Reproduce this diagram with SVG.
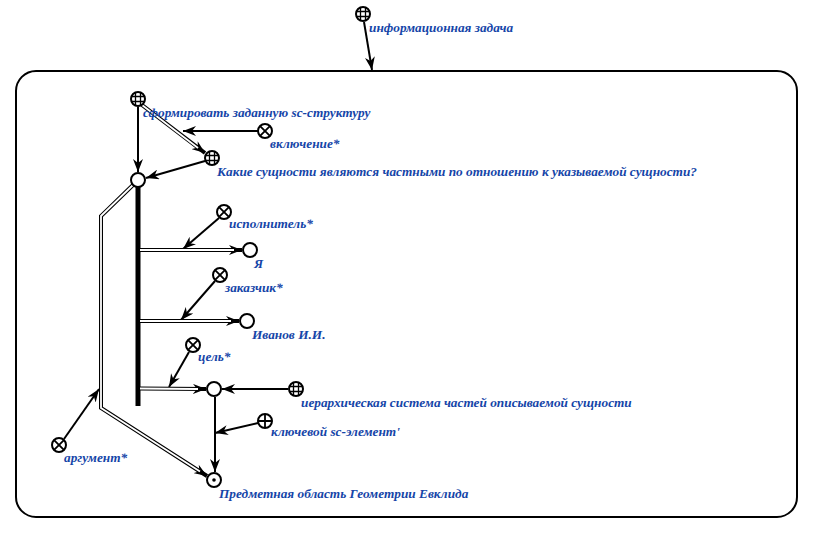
<svg xmlns="http://www.w3.org/2000/svg" width="813" height="533" viewBox="0 0 813 533">
<style>
.lbl{font-family:"Liberation Serif","DejaVu Serif",serif;font-style:italic;font-weight:bold;font-size:13.3px;fill:#1545a8}
.nd{fill:#fff;stroke:#000;stroke-width:2}
.in{stroke:#000;stroke-width:1.3;fill:none}
.ar{stroke:#000;stroke-width:2;fill:none}
.dbo{stroke:#000;stroke-width:4;fill:none}
.dbi{stroke:#fff;stroke-width:1.8;fill:none}
</style>
<defs>
<marker id="ah" markerUnits="userSpaceOnUse" markerWidth="14" markerHeight="10" refX="13" refY="5" orient="auto">
<path d="M0,0 L13,5 L0,10 L4,5 z" fill="#000"/>
</marker>
<g id="grid"><circle class="nd" r="7"/><path class="in" d="M-2.5,-6.5V6.5M2.5,-6.5V6.5M-6.5,-2.5H6.5M-6.5,2.5H6.5"/></g>
<g id="cross"><circle class="nd" r="7"/><path class="in" style="stroke-width:1.8" d="M-4.9,-4.9L4.9,4.9M-4.9,4.9L4.9,-4.9"/></g>
<g id="plus"><circle class="nd" r="7"/><path class="in" style="stroke-width:1.8" d="M0,-7V7M-7,0H7"/></g>
</defs>
<rect x="16" y="71" width="781" height="446" rx="20" ry="20" fill="#fff" stroke="#000" stroke-width="2"/>
<g id="connectors">
<line class="ar" x1="364" y1="22" x2="372" y2="70" marker-end="url(#ah)"/>
<line class="ar" x1="138" y1="107" x2="138" y2="172" marker-end="url(#ah)"/>
<path class="dbo" d="M142,105 L205,153" marker-end="url(#ah)"/>
<path class="dbi" d="M142,105 L198,148"/>
<line class="ar" x1="258" y1="131" x2="183" y2="131" marker-end="url(#ah)"/>
<line class="ar" x1="205" y1="161" x2="146" y2="178" marker-end="url(#ah)"/>
<line x1="138" y1="187" x2="138" y2="406" stroke="#000" stroke-width="5"/>
<path class="dbo" d="M133,185 L101,216 L101,408 L207,476" marker-end="url(#ah)"/>
<path class="dbi" d="M133,185 L101,216 L101,408 L200,471.5"/>
<line class="ar" x1="64" y1="439" x2="99" y2="389" marker-end="url(#ah)"/>
<line class="ar" x1="219" y1="218" x2="183" y2="249" marker-end="url(#ah)"/>
<path class="dbo" d="M140,250 L242,250" marker-end="url(#ah)"/>
<path class="dbi" d="M140,250 L234,250"/>
<line class="ar" x1="215" y1="281" x2="181" y2="320" marker-end="url(#ah)"/>
<path class="dbo" d="M140,321 L239,321" marker-end="url(#ah)"/>
<path class="dbi" d="M140,321 L231,321"/>
<line class="ar" x1="189" y1="352" x2="169" y2="387" marker-end="url(#ah)"/>
<path class="dbo" d="M140,388.5 L206,389" marker-end="url(#ah)"/>
<path class="dbi" d="M140,388.5 L198,389"/>
<line class="ar" x1="288" y1="389" x2="222" y2="389" marker-end="url(#ah)"/>
<line class="ar" x1="215" y1="397" x2="215" y2="472" marker-end="url(#ah)"/>
<line class="ar" x1="258" y1="423" x2="215" y2="433" marker-end="url(#ah)"/>
</g>
<g id="n-info"><use href="#grid" x="363" y="14"/><text class="lbl" x="369" y="32">информационная задача</text></g>
<g id="n-form"><use href="#grid" x="138" y="99"/><text class="lbl" x="143" y="117">сформировать заданную sc-структуру</text></g>
<g id="n-incl"><use href="#cross" x="265" y="131"/><text class="lbl" x="270" y="148">включение*</text></g>
<g id="n-q"><use href="#grid" x="212" y="158"/><text class="lbl" x="217" y="176">Какие сущности являются частными по отношению к указываемой сущности?</text></g>
<g id="n-act"><circle class="nd" cx="138" cy="180" r="7"/></g>
<g id="n-arg"><use href="#cross" x="59" y="445"/><text class="lbl" x="64" y="462">аргумент*</text></g>
<g id="n-isp"><use href="#cross" x="224" y="212"/><text class="lbl" x="229" y="228">исполнитель*</text></g>
<g id="n-ya"><circle class="nd" cx="250" cy="250" r="7"/><text class="lbl" x="254" y="268">Я</text></g>
<g id="n-zak"><use href="#cross" x="220" y="275"/><text class="lbl" x="225" y="292">заказчик*</text></g>
<g id="n-iv"><circle class="nd" cx="247" cy="321" r="7"/><text class="lbl" x="252" y="339">Иванов И.И.</text></g>
<g id="n-cel"><use href="#cross" x="193" y="345"/><text class="lbl" x="198" y="361">цель*</text></g>
<g id="n-goal"><circle class="nd" cx="214" cy="389" r="7"/></g>
<g id="n-ier"><use href="#grid" x="296" y="389"/><text class="lbl" x="301" y="407">иерархическая система частей описываемой сущности</text></g>
<g id="n-key"><use href="#plus" x="265" y="421"/><text class="lbl" x="271" y="436">ключевой sc-элемент'</text></g>
<g id="n-geo"><circle class="nd" cx="214" cy="480" r="7"/><circle cx="214" cy="480" r="1.8" fill="#000"/><text class="lbl" x="219" y="498">Предметная область Геометрии Евклида</text></g>
</svg>
